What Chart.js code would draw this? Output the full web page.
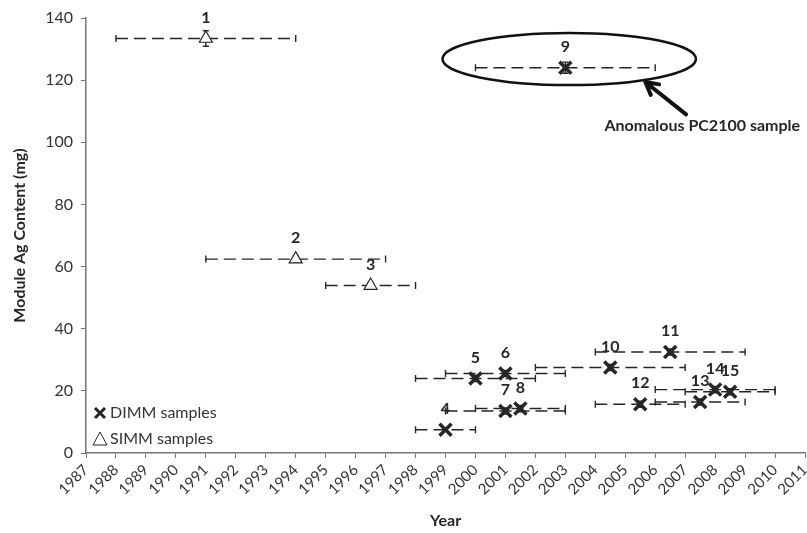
<!DOCTYPE html>
<html>
<head>
<meta charset="utf-8">
<script src="https://cdn.jsdelivr.net/npm/chart.js@4/dist/chart.umd.min.js"></script>
<style>
  html, body { margin: 0; padding: 0; background: #fff; overflow: hidden; }
  #wrap { width: 807px; height: 533px; }
</style>
</head>
<body>
<div id="wrap"><canvas id="myChart"></canvas></div>
<script>
// sample data
var sampleIds = ['1','2','3','4','5','6','7','8','9','10','11','12','13','14','15'];
var sampleType = ['SIMM','SIMM','SIMM','DIMM','DIMM','DIMM','DIMM','DIMM','DIMM','DIMM','DIMM','DIMM','DIMM','DIMM','DIMM'];
var sampleYear = [1991, 1994, 1996.5, 1999, 2000, 2001, 2001, 2001.5, 2003, 2004.5, 2006.5, 2005.5, 2007.5, 2008, 2008.5];
var sampleAg = [133.4, 62.4, 53.9, 7.5, 24.0, 25.6, 13.5, 14.3, 124.0, 27.5, 32.5, 15.7, 16.4, 20.4, 19.7];
var yearErr = [3, 3, 1.5, 1, 2, 2, 2, 1.5, 3, 2.5, 2.5, 1.5, 1.5, 2, 1.5];
var agErr = [2.5, 1, 1, 0.5, 1, 1, 1, 1, 1.8, 1, 1, 1, 1, 1, 1];
var yTicks = [0, 20, 40, 60, 80, 100, 120, 140];
var xMin = 1987, xMax = 2011;

// annotation (in data units)
var noteText = 'Anomalous PC2100 sample';
var ellipseCenter = [2003.13, 126.8];
var ellipseRadius = [4.23, 8.4];
var arrowFrom = [2007.03, 109.0];
var arrowTo = [2005.67, 119.4];
var notePos = [2007.57, 105.2];

var ink = '#262626';
var font = 'Lato, "Open Sans", sans-serif';

var dimmPts = [], simmPts = [];
for (var i = 0; i < sampleIds.length; i++) {
  var p = {x: sampleYear[i], y: sampleAg[i]};
  if (sampleType[i] == 'DIMM') dimmPts.push(p); else simmPts.push(p);
}

var errorBars = {
  id: 'errorBars',
  beforeDatasetsDraw: function(chart) {
    var ctx = chart.ctx, xs = chart.scales.x, ys = chart.scales.y;
    ctx.save();
    ctx.strokeStyle = ink;
    ctx.lineWidth = 1.4;
    for (var i = 0; i < sampleIds.length; i++) {
      var x0 = xs.getPixelForValue(sampleYear[i] - yearErr[i]);
      var x1 = xs.getPixelForValue(sampleYear[i] + yearErr[i]);
      var xc = xs.getPixelForValue(sampleYear[i]);
      var y = ys.getPixelForValue(sampleAg[i]);
      var yt = ys.getPixelForValue(sampleAg[i] + agErr[i]);
      var yb = ys.getPixelForValue(sampleAg[i] - agErr[i]);
      ctx.setLineDash([12, 6]);
      ctx.beginPath();
      ctx.moveTo(x0, y); ctx.lineTo(x1, y);
      ctx.stroke();
      ctx.setLineDash([]);
      ctx.beginPath();
      ctx.moveTo(x0, y - 3.5); ctx.lineTo(x0, y + 3.5);
      ctx.moveTo(x1, y - 3.5); ctx.lineTo(x1, y + 3.5);
      // vertical error
      ctx.moveTo(xc, yt); ctx.lineTo(xc, yb);
      ctx.moveTo(xc - 3, yt); ctx.lineTo(xc + 3, yt);
      ctx.moveTo(xc - 3, yb); ctx.lineTo(xc + 3, yb);
      ctx.stroke();
    }
    ctx.restore();
  },
  afterDatasetsDraw: function(chart) {
    var ctx = chart.ctx, xs = chart.scales.x, ys = chart.scales.y, area = chart.chartArea;
    ctx.save();
    // point labels
    ctx.fillStyle = ink;
    ctx.font = 'bold 16px ' + font;
    ctx.textAlign = 'center';
    ctx.textBaseline = 'middle';
    for (var i = 0; i < sampleIds.length; i++) {
      ctx.fillText(sampleIds[i], xs.getPixelForValue(sampleYear[i]), ys.getPixelForValue(sampleAg[i]) - 21);
    }
    // ellipse
    var cx = xs.getPixelForValue(ellipseCenter[0]), cy = ys.getPixelForValue(ellipseCenter[1]);
    var rx = xs.getPixelForValue(ellipseCenter[0] + ellipseRadius[0]) - cx;
    var ry = cy - ys.getPixelForValue(ellipseCenter[1] + ellipseRadius[1]);
    ctx.strokeStyle = '#111';
    ctx.lineWidth = 2.5;
    ctx.beginPath();
    ctx.ellipse(cx, cy, rx, ry, 0, 0, Math.PI * 2);
    ctx.stroke();
    // arrow
    var ax0 = xs.getPixelForValue(arrowFrom[0]), ay0 = ys.getPixelForValue(arrowFrom[1]);
    var ax1 = xs.getPixelForValue(arrowTo[0]), ay1 = ys.getPixelForValue(arrowTo[1]);
    var ang = Math.atan2(ay1 - ay0, ax1 - ax0);
    ctx.lineWidth = 4;
    ctx.lineCap = 'round';
    ctx.beginPath();
    ctx.moveTo(ax0, ay0); ctx.lineTo(ax1, ay1);
    ctx.moveTo(ax1, ay1); ctx.lineTo(ax1 - 14 * Math.cos(ang - 0.5), ay1 - 14 * Math.sin(ang - 0.5));
    ctx.moveTo(ax1, ay1); ctx.lineTo(ax1 - 14 * Math.cos(ang + 0.5), ay1 - 14 * Math.sin(ang + 0.5));
    ctx.stroke();
    ctx.font = 'bold 16px ' + font;
    ctx.fillStyle = ink;
    ctx.fillText(noteText, xs.getPixelForValue(notePos[0]), ys.getPixelForValue(notePos[1]));
    // legend inside plot, bottom left
    ctx.font = '16px ' + font;
    ctx.textAlign = 'left';
    ctx.fillStyle = '#333';
    var lx = area.left + 14, ly1 = area.bottom - 40, ly2 = area.bottom - 14;
    ctx.strokeStyle = ink;
    ctx.lineWidth = 3;
    ctx.lineCap = 'butt';
    ctx.beginPath();
    ctx.moveTo(lx - 5, ly1 - 5); ctx.lineTo(lx + 5, ly1 + 5);
    ctx.moveTo(lx - 5, ly1 + 5); ctx.lineTo(lx + 5, ly1 - 5);
    ctx.stroke();
    ctx.lineWidth = 1;
    ctx.beginPath();
    ctx.moveTo(lx, ly2 - 7); ctx.lineTo(lx + 7, ly2 + 6); ctx.lineTo(lx - 7, ly2 + 6); ctx.closePath();
    ctx.stroke();
    ctx.fillText('DIMM samples', lx + 10, ly1);
    ctx.fillText('SIMM samples', lx + 10, ly2);
    ctx.restore();
  }
};

var config = {
  type: 'scatter',
  data: {
    datasets: [
      {
        label: 'DIMM samples',
        data: dimmPts,
        pointStyle: 'crossRot',
        pointRadius: 8.5,
        pointBorderWidth: 3.5,
        borderColor: ink,
        backgroundColor: ink
      },
      {
        label: 'SIMM samples',
        data: simmPts,
        pointStyle: 'triangle',
        pointRadius: 7.5,
        pointBorderWidth: 1.2,
        borderColor: ink,
        backgroundColor: '#fff'
      }
    ]
  },
  options: {
    responsive: true,
    maintainAspectRatio: false,
    animation: false,
    layout: { autoPadding: false, padding: { top: 18, right: 2, left: 0, bottom: 0 } },
    plugins: {
      legend: { display: false },
      tooltip: { enabled: false }
    },
    scales: {
      x: {
        type: 'linear',
        min: xMin,
        max: xMax,
        afterFit: function(scale) {
          scale.height = 80;
          scale.paddingLeft = 0;
          scale.paddingRight = 0;
        },
        ticks: {
          stepSize: 1,
          autoSkip: false,
          maxRotation: 45,
          minRotation: 45,
          color: '#333',
          font: { family: font, size: 15 },
          callback: function(v) { return String(v); }
        },
        grid: { display: true, drawOnChartArea: false, drawTicks: true, tickLength: 5, color: '#777' },
        border: { display: true, color: '#777', width: 1.5 },
        title: { display: true, text: 'Year', color: ink, font: { family: font, size: 16, weight: 'bold' }, padding: { top: 0, bottom: 3 } }
      },
      y: {
        min: 0,
        max: 140,
        afterFit: function(scale) { scale.width = 86; },
        afterBuildTicks: function(scale) { scale.ticks = yTicks.map(function(v) { return {value: v}; }); },
        ticks: {
          color: '#333',
          font: { family: font, size: 16 },
          padding: 8
        },
        grid: { display: true, drawOnChartArea: false, drawTicks: true, tickLength: 5, color: '#777' },
        border: { display: true, color: '#777', width: 1.5 },
        title: { display: true, text: 'Module Ag Content (mg)', color: ink, font: { family: font, size: 16, weight: 'bold' }, padding: { top: 10, bottom: 4 } }
      }
    }
  },
  plugins: [errorBars]
};

window.sample_chart = new Chart(document.getElementById('myChart'), config);
</script>
</body>
</html>
